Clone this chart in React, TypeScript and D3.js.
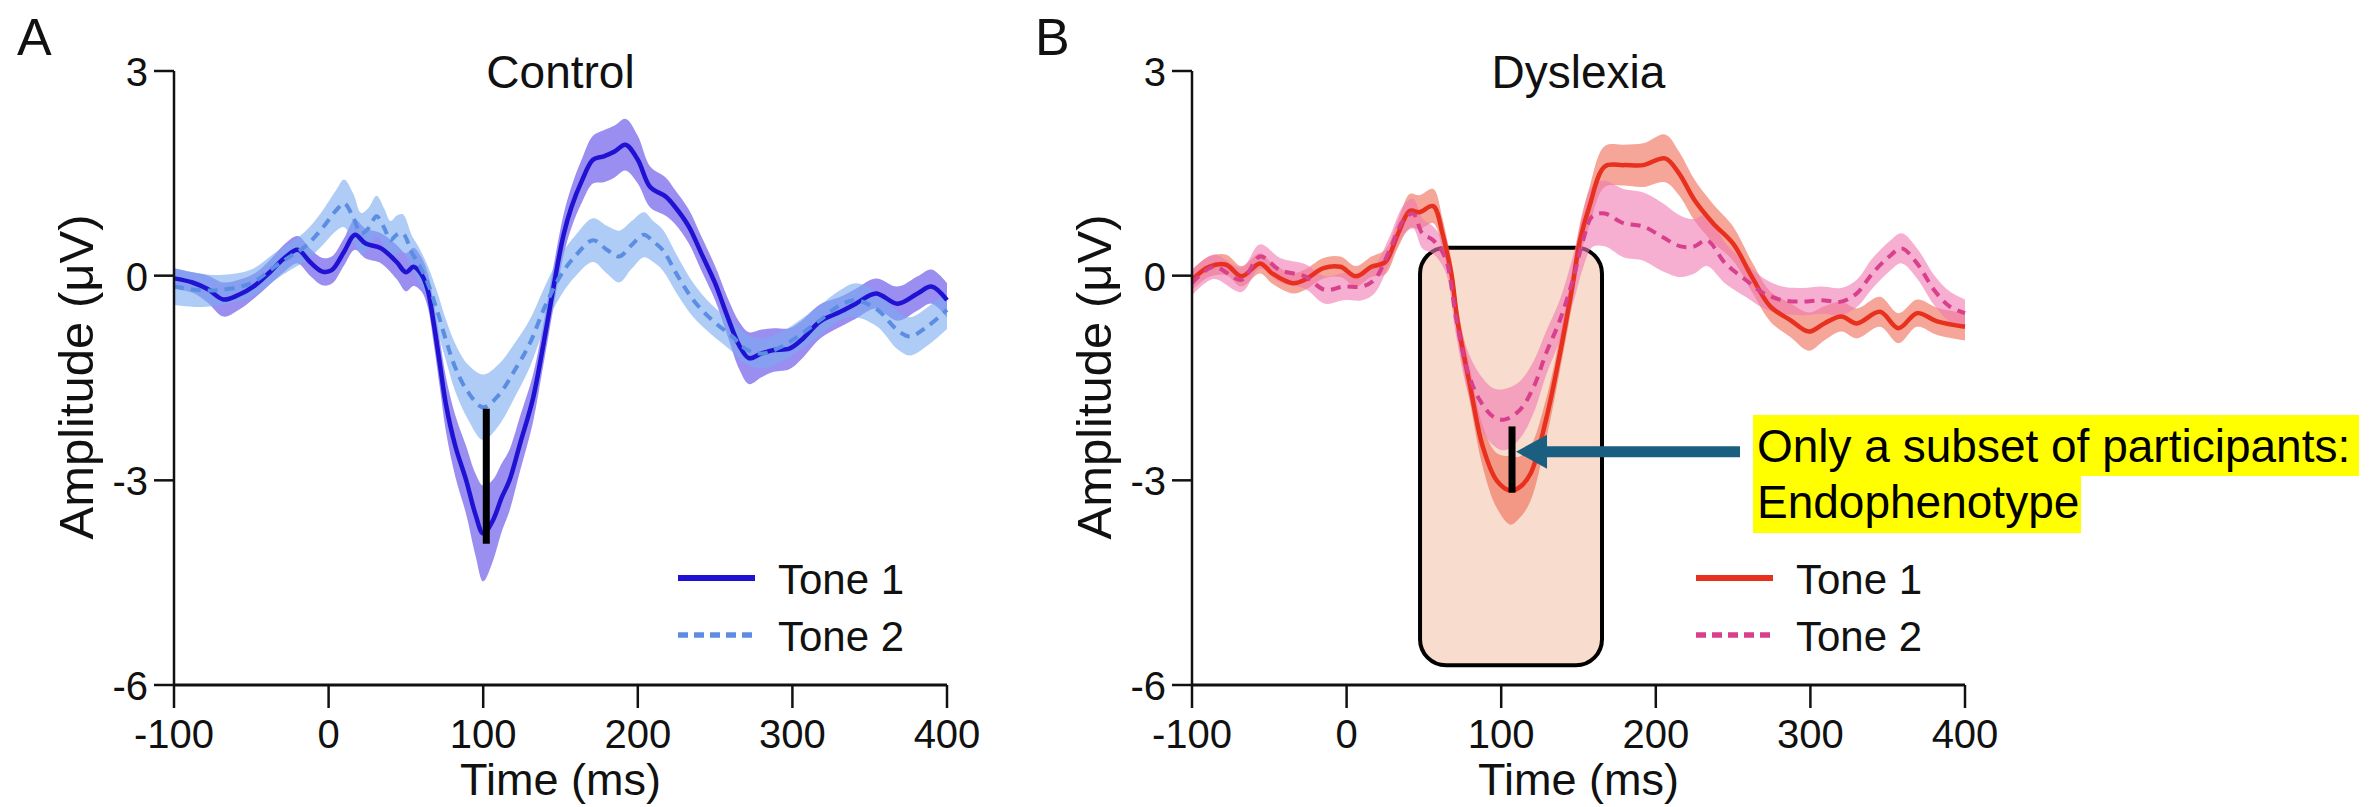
import React from "react";
import * as d3 from "d3";

// ---------- DATA ----------
const xTicks = [-100, 0, 100, 200, 300, 400];
const yTicks = [3, 0, -3, -6];

// Control, Tone 1
const ctrlT1Time = [-100, -88, -78, -68, -58, -48, -38, -28, -20, -12, -4, 2, 10, 17, 24, 34, 44, 50, 55, 60, 64, 68, 72, 76, 82, 89, 95, 100, 106, 112, 117, 124, 132, 139, 146, 152, 157, 164, 171, 178, 185, 192, 200, 208, 218, 224, 233, 241, 250, 258, 266, 272, 280, 288, 298, 306, 318, 331, 341, 354, 368, 381, 390, 400];
const ctrlT1Mean = [-0.04, -0.1, -0.2, -0.35, -0.28, -0.15, 0.05, 0.27, 0.38, 0.2, 0.06, 0.08, 0.35, 0.6, 0.47, 0.4, 0.2, 0.05, 0.13, 0.02, -0.2, -0.7, -1.3, -1.9, -2.5, -3.0, -3.5, -3.78, -3.6, -3.25, -3.0, -2.45, -1.82, -1.0, -0.1, 0.6, 1.0, 1.4, 1.7, 1.75, 1.82, 1.92, 1.7, 1.3, 1.16, 1.01, 0.72, 0.33, -0.11, -0.6, -1.04, -1.21, -1.14, -1.09, -1.07, -0.94, -0.67, -0.53, -0.41, -0.26, -0.41, -0.26, -0.16, -0.36];
const ctrlT1SE = [0.15, 0.15, 0.2, 0.25, 0.22, 0.18, 0.18, 0.2, 0.2, 0.2, 0.2, 0.2, 0.2, 0.22, 0.22, 0.22, 0.25, 0.28, 0.28, 0.25, 0.25, 0.3, 0.35, 0.4, 0.45, 0.5, 0.6, 0.7, 0.6, 0.5, 0.45, 0.4, 0.35, 0.3, 0.3, 0.3, 0.3, 0.32, 0.35, 0.38, 0.38, 0.38, 0.35, 0.3, 0.28, 0.25, 0.25, 0.25, 0.25, 0.28, 0.35, 0.38, 0.35, 0.32, 0.3, 0.28, 0.25, 0.22, 0.22, 0.22, 0.25, 0.25, 0.25, 0.25];

// Control, Tone 2
const ctrlT2Time = [-100, -85, -70, -50, -35, -25, -15, -5, 5, 10, 16, 21, 26, 31, 36, 40, 44, 48, 54, 58, 64, 70, 76, 82, 90, 100, 110, 120, 130, 140, 150, 160, 171, 180, 188, 196, 204, 210, 216, 226, 236, 248, 261, 271, 281, 293, 306, 318, 331, 341, 355, 368, 376, 387, 400];
const ctrlT2Mean = [-0.16, -0.21, -0.21, -0.11, 0.13, 0.28, 0.43, 0.67, 0.96, 1.06, 0.85, 0.62, 0.7, 0.87, 0.7, 0.52, 0.6, 0.62, 0.33, 0.18, -0.1, -0.5, -0.95, -1.35, -1.7, -1.93, -1.75, -1.4, -1.0, -0.45, 0.0, 0.3, 0.52, 0.38, 0.28, 0.45, 0.6, 0.5, 0.38, -0.01, -0.36, -0.65, -0.89, -1.09, -1.14, -1.04, -0.85, -0.65, -0.43, -0.36, -0.5, -0.8, -0.89, -0.75, -0.5];
const ctrlT2SE = [0.27, 0.25, 0.22, 0.2, 0.2, 0.2, 0.22, 0.25, 0.3, 0.35, 0.35, 0.3, 0.3, 0.3, 0.28, 0.28, 0.28, 0.28, 0.25, 0.25, 0.25, 0.28, 0.3, 0.35, 0.4, 0.48, 0.45, 0.4, 0.35, 0.3, 0.3, 0.3, 0.32, 0.35, 0.38, 0.35, 0.33, 0.3, 0.3, 0.28, 0.25, 0.22, 0.22, 0.22, 0.22, 0.22, 0.22, 0.22, 0.22, 0.25, 0.25, 0.28, 0.28, 0.28, 0.28];

// Dyslexia, Tone 1
const dysT1Time = [-100, -89, -78, -68, -56, -48, -35, -27, -15, -4, 6, 16, 25, 33, 41, 47, 56, 62, 65, 68, 72, 80, 88, 97, 106, 112, 119, 129, 138, 146, 151, 157, 167, 179, 192, 206, 215, 225, 237, 250, 262, 274, 287, 299, 309, 320, 330, 345, 357, 369, 382, 400];
const dysT1Mean = [-0.06, 0.13, 0.16, -0.01, 0.18, 0.03, -0.11, -0.06, 0.11, 0.13, -0.01, 0.13, 0.2, 0.6, 0.95, 0.93, 1.02, 0.62, 0.33, 0.0, -0.7, -1.63, -2.5, -3.0, -3.15, -3.1, -2.9, -2.11, -1.14, -0.16, 0.52, 1.01, 1.6, 1.62, 1.62, 1.72, 1.5, 1.11, 0.77, 0.47, -0.01, -0.45, -0.65, -0.82, -0.7, -0.6, -0.7, -0.53, -0.77, -0.55, -0.67, -0.75];
const dysT1SE = [0.15, 0.15, 0.15, 0.15, 0.15, 0.15, 0.15, 0.15, 0.15, 0.15, 0.15, 0.15, 0.18, 0.2, 0.25, 0.25, 0.25, 0.22, 0.2, 0.2, 0.22, 0.25, 0.3, 0.4, 0.5, 0.45, 0.4, 0.3, 0.25, 0.25, 0.25, 0.28, 0.3, 0.3, 0.32, 0.35, 0.32, 0.3, 0.28, 0.25, 0.22, 0.22, 0.25, 0.28, 0.25, 0.22, 0.22, 0.22, 0.22, 0.2, 0.2, 0.2];

// Dyslexia, Tone 2
const dysT2Time = [-100, -86, -68, -56, -43, -27, -14, -2, 10, 18, 27, 37, 43, 49, 56, 64, 71, 78, 86, 95, 102, 112, 121, 129, 138, 147, 153, 159, 167, 179, 192, 204, 216, 225, 233, 245, 258, 270, 282, 295, 307, 320, 330, 340, 351, 359, 369, 380, 390, 400];
const dysT2Mean = [-0.11, 0.13, -0.06, 0.28, 0.08, -0.01, -0.21, -0.16, -0.16, -0.06, 0.33, 0.82, 0.91, 0.62, 0.52, 0.25, -0.65, -1.38, -1.82, -2.07, -2.11, -1.97, -1.63, -1.14, -0.65, -0.01, 0.52, 0.87, 0.91, 0.77, 0.72, 0.57, 0.43, 0.43, 0.52, 0.18, -0.06, -0.26, -0.36, -0.38, -0.36, -0.38, -0.26, 0.03, 0.28, 0.4, 0.18, -0.21, -0.45, -0.55];
const dysT2SE = [0.18, 0.18, 0.18, 0.18, 0.18, 0.18, 0.2, 0.2, 0.2, 0.2, 0.2, 0.22, 0.22, 0.22, 0.2, 0.2, 0.25, 0.3, 0.38, 0.42, 0.45, 0.42, 0.38, 0.32, 0.3, 0.35, 0.4, 0.45, 0.48, 0.5, 0.5, 0.5, 0.45, 0.4, 0.38, 0.3, 0.25, 0.22, 0.2, 0.2, 0.2, 0.2, 0.2, 0.22, 0.22, 0.22, 0.22, 0.22, 0.22, 0.2];

// Peak difference markers [time, top, bottom]
const ctrlMarker = [102, -1.95, -3.93];
const dysMarker = [107, -2.21, -3.18];
// highlighted window [t0, t1, vTop, vBottom]
const dysWindow = [47.5, 165.2, 0.41, -5.71];

const legendLabels = ["Tone 1", "Tone 2"];
const noteLines = ["Only a subset of participants:", "Endophenotype"];

// ---------- RENDER ----------
const FONT = "'Liberation Sans', Arial, Helvetica, sans-serif";
const W = 2369;
const H = 807;

type Series = { t: number[]; m: number[]; se: number[] };

function zipSeries(s: Series) {
  return s.t.map((t, i) => ({ t, m: s.m[i], se: s.se[i] }));
}

function Panel(props: {
  ox: number;
  letter: string;
  title: string;
  s1: Series;
  s2: Series;
  c1: string;
  c2: string;
  band1: string;
  band2: string;
  band1Op: number;
  band2Op: number;
  marker: number[];
  children?: any;
  under?: (x: any, y: any) => any;
  over?: (x: any, y: any) => any;
}) {
  const { ox } = props;
  const x = d3.scaleLinear().domain([-100, 400]).range([ox + 174, ox + 947]);
  const y = d3.scaleLinear().domain([-6, 3]).range([685, 71]);
  const curve = d3.curveCatmullRom.alpha(0.5);
  const area = d3
    .area<any>()
    .x((d) => x(d.t))
    .y0((d) => y(d.m - d.se))
    .y1((d) => y(d.m + d.se))
    .curve(curve);
  const line = d3
    .line<any>()
    .x((d) => x(d.t))
    .y((d) => y(d.m))
    .curve(curve);
  const d1 = zipSeries(props.s1);
  const d2 = zipSeries(props.s2);
  const x0 = x(-100);
  const yBase = y(-6);
  const cx = (x(-100) + x(400)) / 2;
  return (
    <g fontFamily={FONT} fill="#111">
      <text x={ox + 17} y={55} fontSize={52}>
        {props.letter}
      </text>
      <text x={cx} y={88} fontSize={46} textAnchor="middle">
        {props.title}
      </text>
      {props.under ? props.under(x, y) : null}
      <path d={area(d1) || ""} fill={props.band1} fillOpacity={props.band1Op} stroke="none" />
      <path d={area(d2) || ""} fill={props.band2} fillOpacity={props.band2Op} stroke="none" />
      <path d={line(d1) || ""} fill="none" stroke={props.c1} strokeWidth={4.5} strokeLinejoin="round" />
      <path
        d={line(d2) || ""}
        fill="none"
        stroke={props.c2}
        strokeWidth={4}
        strokeDasharray="10 7"
        strokeLinejoin="round"
      />
      {/* peak marker */}
      <line
        x1={x(props.marker[0])}
        x2={x(props.marker[0])}
        y1={y(props.marker[1])}
        y2={y(props.marker[2])}
        stroke="#000"
        strokeWidth={7}
      />
      {/* axes */}
      <line x1={x0} x2={x0} y1={y(3)} y2={yBase} stroke="#111" strokeWidth={2.5} />
      <line x1={x0} x2={x(400)} y1={yBase} y2={yBase} stroke="#111" strokeWidth={3} />
      {yTicks.map((v) => (
        <g key={"y" + v}>
          <line x1={x0 - 20} x2={x0} y1={y(v)} y2={y(v)} stroke="#111" strokeWidth={2.5} />
          <text x={x0 - 26} y={y(v) + 15} fontSize={40} textAnchor="end">
            {String(v)}
          </text>
        </g>
      ))}
      {xTicks.map((t) => (
        <g key={"x" + t}>
          <line x1={x(t)} x2={x(t)} y1={yBase} y2={yBase + 23} stroke="#111" strokeWidth={2.5} />
          <text x={x(t)} y={748} fontSize={40} textAnchor="middle">
            {String(t)}
          </text>
        </g>
      ))}
      <text x={cx} y={795} fontSize={45} textAnchor="middle">
        Time (ms)
      </text>
      <text
        transform={`translate(${ox + 93},377) rotate(-90)`}
        fontSize={49}
        textAnchor="middle"
      >
        Amplitude (μV)
      </text>
      {/* legend */}
      <line x1={ox + 678} x2={ox + 755} y1={578} y2={578} stroke={props.c1} strokeWidth={6} />
      <line
        x1={ox + 678}
        x2={ox + 755}
        y1={635}
        y2={635}
        stroke={props.c2}
        strokeWidth={5.5}
        strokeDasharray="10 6"
      />
      <text x={ox + 778} y={594} fontSize={42}>
        {legendLabels[0]}
      </text>
      <text x={ox + 778} y={651} fontSize={42}>
        {legendLabels[1]}
      </text>
      {props.over ? props.over(x, y) : null}
    </g>
  );
}

export default function App() {
  const tipT = dysMarker[0];
  const tipV = -2.58;
  return (
    <svg
      width={W}
      height={H}
      viewBox={`0 0 ${W} ${H}`}
      style={{ position: "absolute", left: 0, top: 0, background: "#fff" }}
    >
      <rect x={0} y={0} width={W} height={H} fill="#fff" />
      <Panel
        ox={0}
        letter="A"
        title="Control"
        s1={{ t: ctrlT1Time, m: ctrlT1Mean, se: ctrlT1SE }}
        s2={{ t: ctrlT2Time, m: ctrlT2Mean, se: ctrlT2SE }}
        c1="#1f12d2"
        c2="#5b8ee2"
        band1="#6a58ea"
        band2="#7aaaf0"
        band1Op={0.68}
        band2Op={0.6}
        marker={ctrlMarker}
      />
      <Panel
        ox={1018}
        letter="B"
        title="Dyslexia"
        s1={{ t: dysT1Time, m: dysT1Mean, se: dysT1SE }}
        s2={{ t: dysT2Time, m: dysT2Mean, se: dysT2SE }}
        c1="#e8301f"
        c2="#d83f8c"
        band1="#ee6a55"
        band2="#f07ab0"
        band1Op={0.6}
        band2Op={0.6}
        marker={dysMarker}
        under={(x: any, y: any) => (
          <rect
            x={x(dysWindow[0])}
            y={y(dysWindow[2])}
            width={x(dysWindow[1]) - x(dysWindow[0])}
            height={y(dysWindow[3]) - y(dysWindow[2])}
            rx={26}
            ry={26}
            fill="#f8dccd"
            stroke="#000"
            strokeWidth={4}
          />
        )}
        over={(x: any, y: any) => {
          const tx = x(tipT) + 4;
          const ty = y(tipV);
          return (
            <g>
              <polygon
                points={`${tx},${ty} ${tx + 31},${ty - 17} ${tx + 31},${ty - 5.5} ${tx + 224},${ty - 5.5} ${tx + 224},${ty + 5.5} ${tx + 31},${ty + 5.5} ${tx + 31},${ty + 17}`}
                fill="#1b5f80"
              />
            </g>
          );
        }}
      />
      {/* annotation note */}
      <g fontFamily={FONT}>
        <rect x={1753} y={415} width={606} height={61} fill="#ffff00" />
        <rect x={1753} y={475} width={328} height={58} fill="#ffff00" />
        <text x={1757} y={462} fontSize={46} fill="#000">
          {noteLines[0]}
        </text>
        <text x={1757} y={518} fontSize={46} fill="#000">
          {noteLines[1]}
        </text>
      </g>
    </svg>
  );
}
